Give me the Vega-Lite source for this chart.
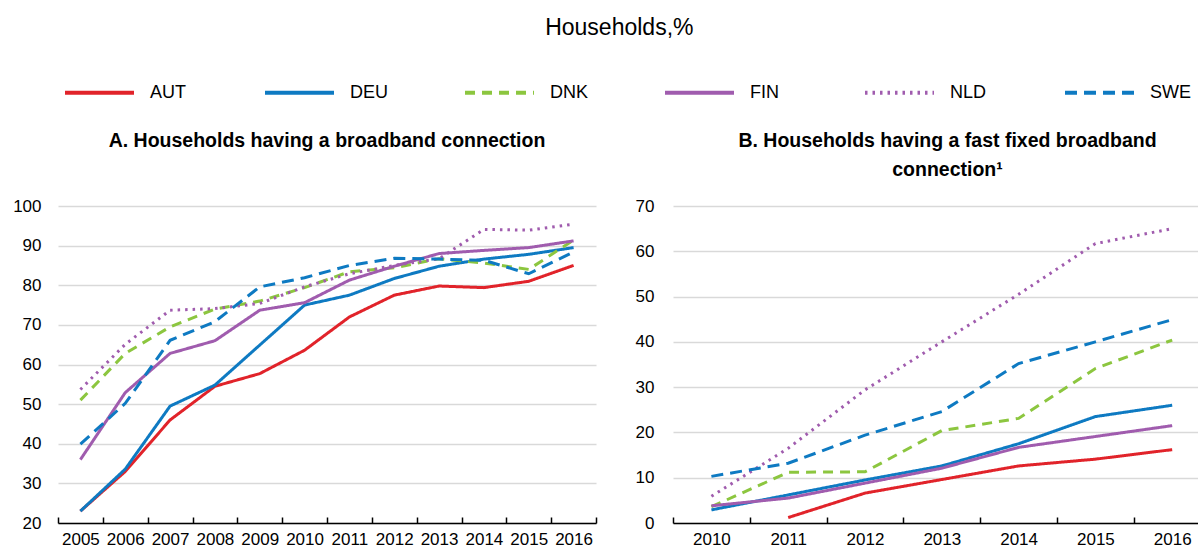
{
  "$schema": "https://vega.github.io/schema/vega-lite/v6.json",
  "background": "white",
  "padding": {"left": 12, "top": 17, "right": 0, "bottom": 0},
  "bounds": "flush",
  "spacing": 77,
  "title": {"text": "Households,%", "fontSize": 23, "fontWeight": "normal", "font": "Liberation Sans", "color": "#000", "frame": "bounds", "anchor": "middle", "dx": 14, "offset": 16},
  "datasets": {
    "a": [
      {"country": "AUT", "year": 2005, "value": 23}, {"country": "AUT", "year": 2006, "value": 33}, {"country": "AUT", "year": 2007, "value": 46}, {"country": "AUT", "year": 2008, "value": 54.5}, {"country": "AUT", "year": 2009, "value": 57.7}, {"country": "AUT", "year": 2010, "value": 63.6}, {"country": "AUT", "year": 2011, "value": 72}, {"country": "AUT", "year": 2012, "value": 77.5}, {"country": "AUT", "year": 2013, "value": 79.8}, {"country": "AUT", "year": 2014, "value": 79.4}, {"country": "AUT", "year": 2015, "value": 81}, {"country": "AUT", "year": 2016, "value": 85},
      {"country": "DEU", "year": 2005, "value": 23}, {"country": "DEU", "year": 2006, "value": 33.6}, {"country": "DEU", "year": 2007, "value": 49.5}, {"country": "DEU", "year": 2008, "value": 54.8}, {"country": "DEU", "year": 2009, "value": 64.9}, {"country": "DEU", "year": 2010, "value": 75}, {"country": "DEU", "year": 2011, "value": 77.5}, {"country": "DEU", "year": 2012, "value": 81.7}, {"country": "DEU", "year": 2013, "value": 84.8}, {"country": "DEU", "year": 2014, "value": 86.6}, {"country": "DEU", "year": 2015, "value": 87.8}, {"country": "DEU", "year": 2016, "value": 89.5},
      {"country": "DNK", "year": 2005, "value": 51}, {"country": "DNK", "year": 2006, "value": 62.8}, {"country": "DNK", "year": 2007, "value": 69.5}, {"country": "DNK", "year": 2008, "value": 74}, {"country": "DNK", "year": 2009, "value": 76}, {"country": "DNK", "year": 2010, "value": 79.4}, {"country": "DNK", "year": 2011, "value": 83.4}, {"country": "DNK", "year": 2012, "value": 84.4}, {"country": "DNK", "year": 2013, "value": 86.7}, {"country": "DNK", "year": 2014, "value": 85.6}, {"country": "DNK", "year": 2015, "value": 84}, {"country": "DNK", "year": 2016, "value": 91.4},
      {"country": "FIN", "year": 2005, "value": 36}, {"country": "FIN", "year": 2006, "value": 52.9}, {"country": "FIN", "year": 2007, "value": 62.8}, {"country": "FIN", "year": 2008, "value": 66}, {"country": "FIN", "year": 2009, "value": 73.7}, {"country": "FIN", "year": 2010, "value": 75.6}, {"country": "FIN", "year": 2011, "value": 81.3}, {"country": "FIN", "year": 2012, "value": 84.8}, {"country": "FIN", "year": 2013, "value": 88}, {"country": "FIN", "year": 2014, "value": 88.8}, {"country": "FIN", "year": 2015, "value": 89.5}, {"country": "FIN", "year": 2016, "value": 91.2},
      {"country": "NLD", "year": 2005, "value": 53.7}, {"country": "NLD", "year": 2006, "value": 65.1}, {"country": "NLD", "year": 2007, "value": 73.7}, {"country": "NLD", "year": 2008, "value": 74.1}, {"country": "NLD", "year": 2009, "value": 75.4}, {"country": "NLD", "year": 2010, "value": 79.6}, {"country": "NLD", "year": 2011, "value": 82.9}, {"country": "NLD", "year": 2012, "value": 85}, {"country": "NLD", "year": 2013, "value": 86.7}, {"country": "NLD", "year": 2014, "value": 94.1}, {"country": "NLD", "year": 2015, "value": 93.9}, {"country": "NLD", "year": 2016, "value": 95.4},
      {"country": "SWE", "year": 2005, "value": 39.9}, {"country": "SWE", "year": 2006, "value": 50.2}, {"country": "SWE", "year": 2007, "value": 66.1}, {"country": "SWE", "year": 2008, "value": 70.8}, {"country": "SWE", "year": 2009, "value": 79.6}, {"country": "SWE", "year": 2010, "value": 81.9}, {"country": "SWE", "year": 2011, "value": 85}, {"country": "SWE", "year": 2012, "value": 86.8}, {"country": "SWE", "year": 2013, "value": 86.6}, {"country": "SWE", "year": 2014, "value": 86.3}, {"country": "SWE", "year": 2015, "value": 82.9}, {"country": "SWE", "year": 2016, "value": 88.4}
    ],
    "b": [
      {"country": "AUT", "year": 2011, "value": 1.2}, {"country": "AUT", "year": 2012, "value": 6.6}, {"country": "AUT", "year": 2013, "value": 9.6}, {"country": "AUT", "year": 2014, "value": 12.6}, {"country": "AUT", "year": 2015, "value": 14.1}, {"country": "AUT", "year": 2016, "value": 16.2},
      {"country": "DEU", "year": 2010, "value": 2.9}, {"country": "DEU", "year": 2011, "value": 6.2}, {"country": "DEU", "year": 2012, "value": 9.5}, {"country": "DEU", "year": 2013, "value": 12.6}, {"country": "DEU", "year": 2014, "value": 17.5}, {"country": "DEU", "year": 2015, "value": 23.5}, {"country": "DEU", "year": 2016, "value": 26},
      {"country": "DNK", "year": 2010, "value": 3.6}, {"country": "DNK", "year": 2011, "value": 11.2}, {"country": "DNK", "year": 2012, "value": 11.3}, {"country": "DNK", "year": 2013, "value": 20.4}, {"country": "DNK", "year": 2014, "value": 23.1}, {"country": "DNK", "year": 2015, "value": 34.1}, {"country": "DNK", "year": 2016, "value": 40.4},
      {"country": "FIN", "year": 2010, "value": 3.8}, {"country": "FIN", "year": 2011, "value": 5.5}, {"country": "FIN", "year": 2012, "value": 8.8}, {"country": "FIN", "year": 2013, "value": 12.1}, {"country": "FIN", "year": 2014, "value": 16.7}, {"country": "FIN", "year": 2015, "value": 19.1}, {"country": "FIN", "year": 2016, "value": 21.5},
      {"country": "NLD", "year": 2010, "value": 5.9}, {"country": "NLD", "year": 2011, "value": 16.5}, {"country": "NLD", "year": 2012, "value": 29.4}, {"country": "NLD", "year": 2013, "value": 40}, {"country": "NLD", "year": 2014, "value": 50.5}, {"country": "NLD", "year": 2015, "value": 61.7}, {"country": "NLD", "year": 2016, "value": 65},
      {"country": "SWE", "year": 2010, "value": 10.3}, {"country": "SWE", "year": 2011, "value": 13.2}, {"country": "SWE", "year": 2012, "value": 19.4}, {"country": "SWE", "year": 2013, "value": 24.6}, {"country": "SWE", "year": 2014, "value": 35.2}, {"country": "SWE", "year": 2015, "value": 40}, {"country": "SWE", "year": 2016, "value": 44.9}
    ]
  },
  "config": {
    "view": {"stroke": null},
    "font": "Liberation Sans",
    "axis": {"labelFont": "Liberation Sans", "labelFontSize": 17, "labelColor": "#000"},
    "legend": {
      "orient": "none", "legendX": 5, "legendY": -150, "direction": "horizontal", "columns": 6, "gridAlign": "all", "columnPadding": 65,
      "symbolType": "stroke", "symbolSize": 4761, "symbolStrokeWidth": 4,
      "labelFont": "Liberation Sans", "labelFontSize": 18, "labelColor": "#000", "labelOffset": 14, "labelLimit": 0, "padding": 0
    }
  },
  "hconcat": [
    {
      "width": 538,
      "height": 317,
      "title": {"text": "A. Households having a broadband connection", "fontSize": 19.5, "fontWeight": "bold", "font": "Liberation Sans", "color": "#000", "frame": "group", "anchor": "middle", "offset": 46},
      "data": {"name": "a"},
      "mark": {"type": "line", "strokeWidth": 3},
      "encoding": {
        "x": {"field": "year", "type": "quantitative", "title": null,
          "scale": {"domain": [2004.5, 2016.5], "nice": false, "zero": false},
          "axis": {"values": [2004.5, 2005.5, 2006.5, 2007.5, 2008.5, 2009.5, 2010.5, 2011.5, 2012.5, 2013.5, 2014.5, 2015.5, 2016.5],
            "labelExpr": "datum.value > 2016 ? '' : format(datum.value + 0.5, 'd')", "labelOffset": 22.4, "labelFlush": false, "labelOverlap": false,
            "grid": false, "domainColor": "#000", "domainWidth": 1.5, "tickColor": "#000", "tickWidth": 1.5, "tickSize": -6, "labelPadding": 14}},
        "y": {"field": "value", "type": "quantitative", "title": null,
          "scale": {"domain": [20, 100], "nice": false, "zero": false},
          "axis": {"values": [20, 30, 40, 50, 60, 70, 80, 90, 100], "domain": false, "ticks": false, "gridColor": "#d9d9d9", "gridWidth": 1.5, "labelPadding": 17}},
        "color": {"field": "country", "type": "nominal", "legend": {"title": null},
          "scale": {"domain": ["AUT", "DEU", "DNK", "FIN", "NLD", "SWE"], "range": ["#E1232A", "#0E7AC2", "#8CC63F", "#A05CAE", "#A05CAE", "#0E7AC2"]}},
        "strokeDash": {"field": "country", "type": "nominal", "legend": {"title": null},
          "scale": {"domain": ["AUT", "DEU", "DNK", "FIN", "NLD", "SWE"], "range": [[1, 0], [1, 0], [10, 7], [1, 0], [2.5, 5], [12, 7]]}}
      }
    },
    {
      "width": 525,
      "height": 317,
      "title": {"text": ["B. Households having a fast fixed broadband", "connection¹"], "lineHeight": 29, "fontSize": 19.5, "fontWeight": "bold", "font": "Liberation Sans", "color": "#000", "frame": "group", "anchor": "middle", "dx": 12, "offset": 17},
      "data": {"name": "b"},
      "mark": {"type": "line", "strokeWidth": 3},
      "encoding": {
        "x": {"field": "year", "type": "quantitative", "title": null,
          "scale": {"domain": [2009.5, 2016.336], "nice": false, "zero": false},
          "axis": {"values": [2009.5, 2010.5, 2011.5, 2012.5, 2013.5, 2014.5, 2015.5],
            "labelExpr": "format(datum.value + 0.5, 'd')", "labelOffset": 38.4, "labelFlush": false, "labelOverlap": false,
            "grid": false, "domainColor": "#000", "domainWidth": 1.5, "tickColor": "#000", "tickWidth": 1.5, "tickSize": -6, "labelPadding": 14}},
        "y": {"field": "value", "type": "quantitative", "title": null,
          "scale": {"domain": [0, 70], "nice": false, "zero": false},
          "axis": {"values": [0, 10, 20, 30, 40, 50, 60, 70], "domain": false, "ticks": false, "gridColor": "#d9d9d9", "gridWidth": 1.5, "labelPadding": 19}},
        "color": {"field": "country", "type": "nominal", "legend": {"title": null},
          "scale": {"domain": ["AUT", "DEU", "DNK", "FIN", "NLD", "SWE"], "range": ["#E1232A", "#0E7AC2", "#8CC63F", "#A05CAE", "#A05CAE", "#0E7AC2"]}},
        "strokeDash": {"field": "country", "type": "nominal", "legend": {"title": null},
          "scale": {"domain": ["AUT", "DEU", "DNK", "FIN", "NLD", "SWE"], "range": [[1, 0], [1, 0], [10, 7], [1, 0], [2.5, 5], [12, 7]]}}
      }
    }
  ]
}
